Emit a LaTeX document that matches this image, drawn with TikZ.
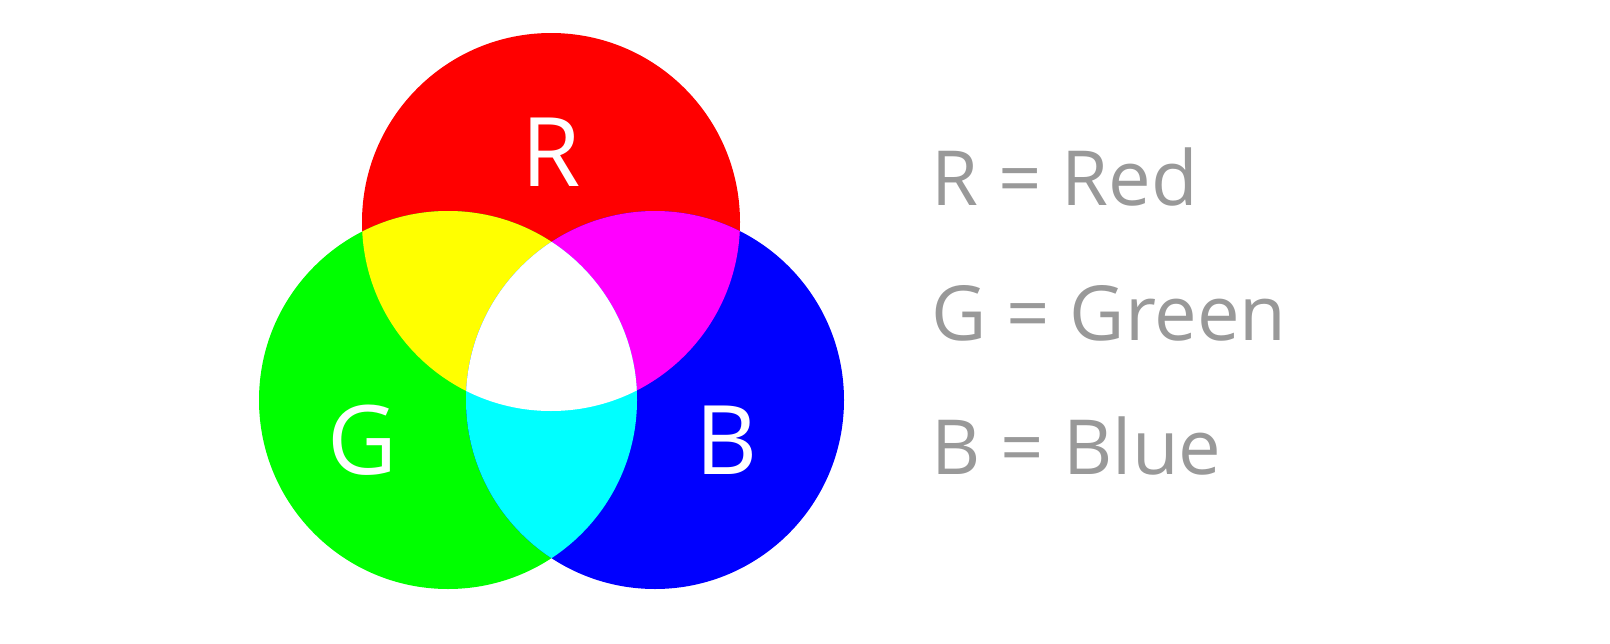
\documentclass[tikz,border=0pt]{standalone}
\usepackage{fontspec}
\setmainfont{Open Sans}
\definecolor{legendgray}{HTML}{999999}
\definecolor{pr}{RGB}{255,0,0}
\definecolor{pg}{RGB}{0,255,0}
\definecolor{pb}{RGB}{0,0,255}
\definecolor{py}{RGB}{255,255,0}
\definecolor{pm}{RGB}{255,0,255}
\definecolor{pc}{RGB}{0,255,255}
\begin{document}
\begin{tikzpicture}[x=1pt,y=-1pt,
  big/.style={text=white,font=\fontsize{96}{100}\selectfont},
  leg/.style={text=legendgray,anchor=west,font=\fontsize{76}{80}\selectfont}]
\useasboundingbox (0,0) rectangle (1610,643);
\def\rc{(551,222) circle (189)}
\def\gc{(448,400) circle (189)}
\def\bc{(655,400) circle (189)}
\fill[pr] \rc;
\fill[pg] \gc;
\fill[pb] \bc;
\begin{scope}\clip \rc; \fill[py] \gc; \end{scope}
\begin{scope}\clip \rc; \fill[pm] \bc; \end{scope}
\begin{scope}\clip \gc; \fill[pc] \bc; \end{scope}
\begin{scope}\clip \rc; \clip \gc; \fill[white] \bc; \end{scope}
\node[big] (r) at (551,152) {R};
\node[big] (g) at (362,440) {G};
\node[big] (b) at (727,440) {B};
\node[leg] (lr) at (928,177) {R = Red};
\node[leg] (lg) at (928,313) {G = Green};
\node[leg] (lb) at (928,446) {B = Blue};
\end{tikzpicture}
\end{document}
